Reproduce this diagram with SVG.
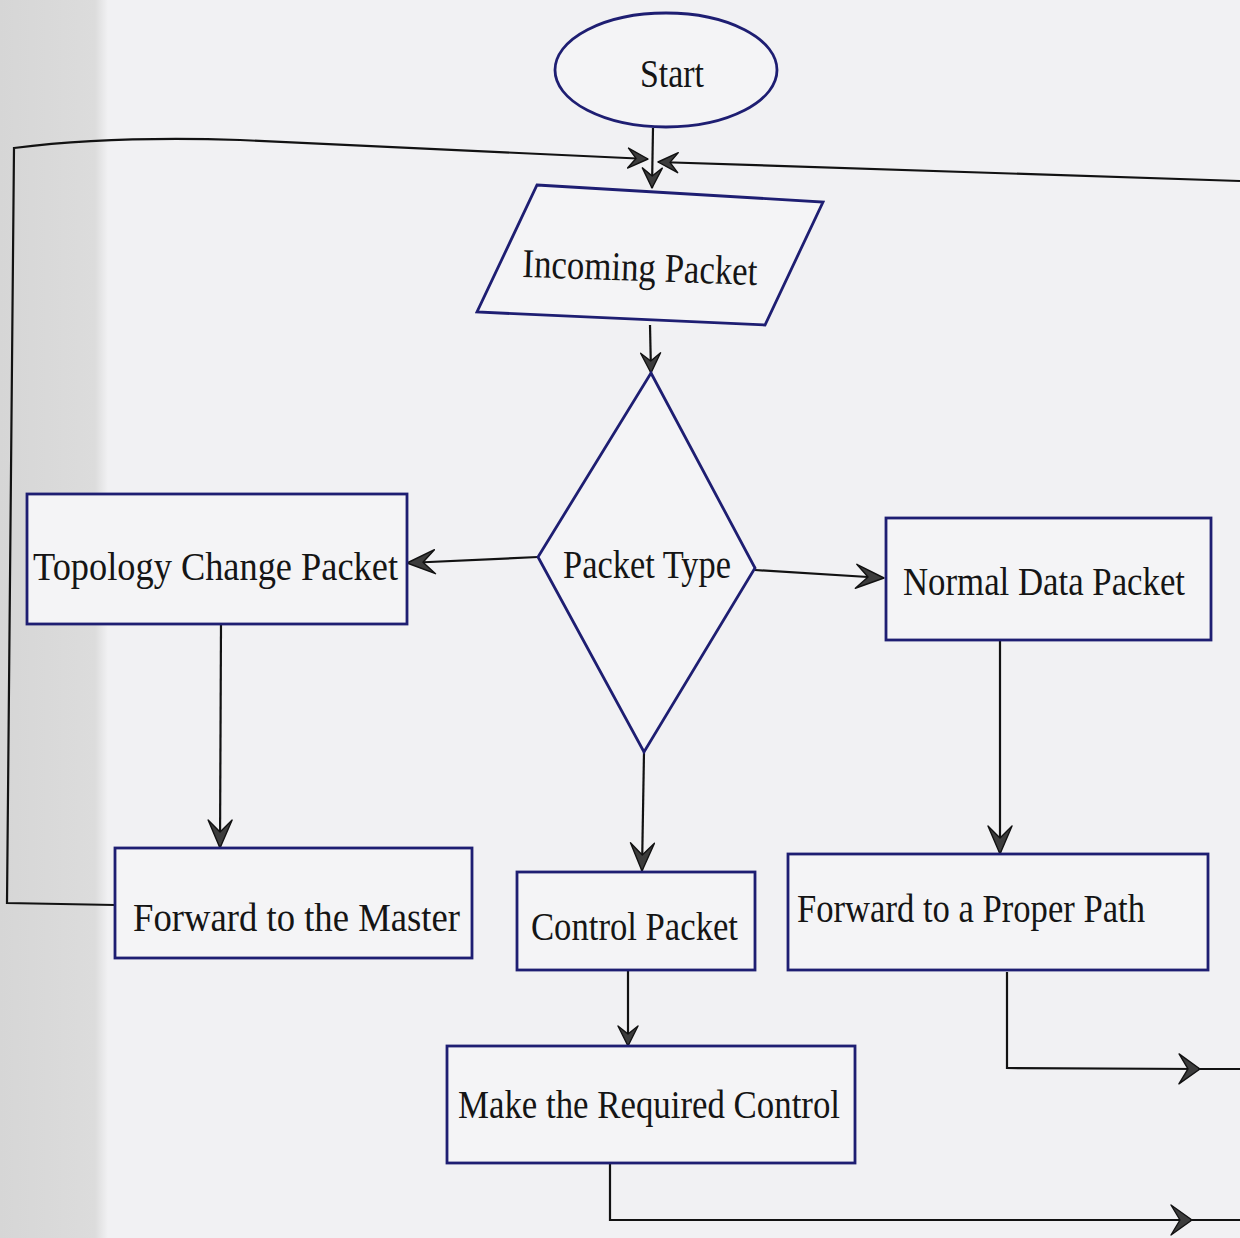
<svg xmlns="http://www.w3.org/2000/svg" width="1240" height="1238" viewBox="0 0 1240 1238">
  <defs>
    <linearGradient id="band" x1="0" y1="0" x2="1" y2="0">
      <stop offset="0" stop-color="#d6d6d6"/>
      <stop offset="0.88" stop-color="#dcdcdc"/>
      <stop offset="1" stop-color="#f1f1f3"/>
    </linearGradient>
    <marker id="arrowL" viewBox="0 0 30 26" refX="29" refY="13" markerWidth="30" markerHeight="26" markerUnits="userSpaceOnUse" orient="auto">
      <path d="M29,13 L1,1 L13,13 L1,25 Z" fill="#3c3c3c" stroke="#111" stroke-width="1.4" stroke-linejoin="round"/>
    </marker>
    <marker id="arrowR" viewBox="0 0 24 32" refX="23" refY="16" markerWidth="24" markerHeight="32" markerUnits="userSpaceOnUse" orient="auto">
      <path d="M23,16 L2,1 L11,16 L2,31 Z" fill="#3c3c3c" stroke="#111" stroke-width="1.4" stroke-linejoin="round"/>
    </marker>
    <marker id="arrowS" viewBox="0 0 22 22" refX="21" refY="11" markerWidth="22" markerHeight="22" markerUnits="userSpaceOnUse" orient="auto">
      <path d="M21,11 L1,1 L9,11 L1,21 Z" fill="#3c3c3c" stroke="#111" stroke-width="1.4" stroke-linejoin="round"/>
    </marker>
  </defs>
  <style>
    .node { fill: #f4f4f6; stroke: #1e1e72; stroke-width: 2.8; }
    .label { font-family: "Liberation Serif", "Times New Roman", serif; font-size: 41px; fill: #151515; }
    .conn { fill: none; stroke: #121212; stroke-width: 2.2; stroke-linejoin: miter; }
  </style>

  <rect x="0" y="0" width="1240" height="1238" fill="#f1f1f3"/>
  <rect x="0" y="0" width="108" height="1238" fill="url(#band)"/>

  <g id="connectors">
    <path class="conn" d="M653,128 L652,188" marker-end="url(#arrowS)"/>
    <path class="conn" d="M115,905 L7,903 L14,148 C70,141 150,137 240,140 L648,159" marker-end="url(#arrowS)"/>
    <path class="conn" d="M1240,181 L658,162" marker-end="url(#arrowS)"/>
    <path class="conn" d="M650,325 L651,373" marker-end="url(#arrowS)"/>
    <path class="conn" d="M538,557 L407,563" marker-end="url(#arrowL)"/>
    <path class="conn" d="M755,570 L884,578" marker-end="url(#arrowL)"/>
    <path class="conn" d="M221,624 L220,848" marker-end="url(#arrowL)"/>
    <path class="conn" d="M644,752 L642,871" marker-end="url(#arrowL)"/>
    <path class="conn" d="M1000,640 L1000,854" marker-end="url(#arrowL)"/>
    <path class="conn" d="M1007,972 L1007,1068 L1200,1069" marker-end="url(#arrowR)"/>
    <path class="conn" d="M1198,1069 L1240,1069"/>
    <path class="conn" d="M628,970 L628,1046" marker-end="url(#arrowS)"/>
    <path class="conn" d="M610,1163 L610,1220 L1192,1220" marker-end="url(#arrowR)"/>
    <path class="conn" d="M1190,1220 L1240,1220"/>
  </g>

  <g id="start">
    <ellipse class="node" cx="666" cy="70" rx="111" ry="57"/>
    <text class="label" x="640" y="87" textLength="64" lengthAdjust="spacingAndGlyphs">Start</text>
  </g>

  <g id="incoming-packet">
    <polygon class="node" points="537,185 823,202 765,325 477,312"/>
    <text class="label" x="522" y="281" textLength="235" lengthAdjust="spacingAndGlyphs" transform="rotate(2 640 281)">Incoming Packet</text>
  </g>

  <g id="packet-type">
    <polygon class="node" points="651,373 755,568 644,752 538,557"/>
    <text class="label" x="563" y="578" textLength="168" lengthAdjust="spacingAndGlyphs">Packet Type</text>
  </g>

  <g id="topology-change-packet">
    <rect class="node" x="27" y="494" width="380" height="130"/>
    <text class="label" x="33" y="580" textLength="365" lengthAdjust="spacingAndGlyphs">Topology Change Packet</text>
  </g>

  <g id="normal-data-packet">
    <rect class="node" x="886" y="518" width="325" height="122"/>
    <text class="label" x="903" y="595" textLength="282" lengthAdjust="spacingAndGlyphs">Normal Data Packet</text>
  </g>

  <g id="forward-to-master">
    <rect class="node" x="115" y="848" width="357" height="110"/>
    <text class="label" x="133" y="931" textLength="327" lengthAdjust="spacingAndGlyphs">Forward to the Master</text>
  </g>

  <g id="control-packet">
    <rect class="node" x="517" y="872" width="238" height="98"/>
    <text class="label" x="531" y="940" textLength="207" lengthAdjust="spacingAndGlyphs">Control Packet</text>
  </g>

  <g id="forward-proper-path">
    <rect class="node" x="788" y="854" width="420" height="116"/>
    <text class="label" x="797" y="922" textLength="348" lengthAdjust="spacingAndGlyphs">Forward to a Proper Path</text>
  </g>

  <g id="make-required-control">
    <rect class="node" x="447" y="1046" width="408" height="117"/>
    <text class="label" x="458" y="1118" textLength="382" lengthAdjust="spacingAndGlyphs">Make the Required Control</text>
  </g>
</svg>
